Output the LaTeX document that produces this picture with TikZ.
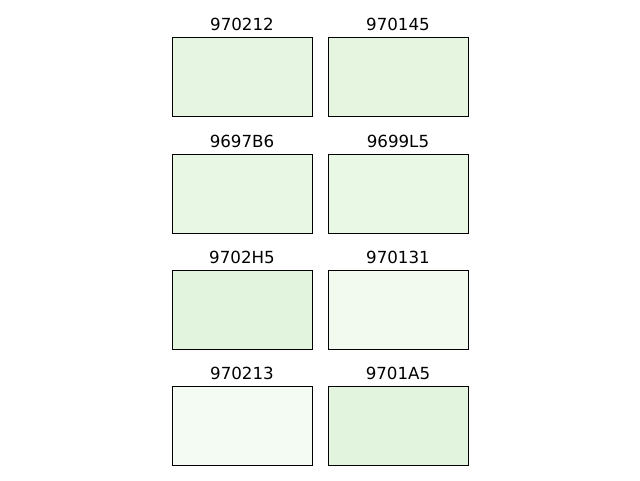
\documentclass[tikz,border=0pt]{standalone}
\usepackage{fontspec}
\setmainfont{DejaVu Sans}
\usetikzlibrary{positioning}
\usetikzlibrary{calc}
\definecolor{gA}{HTML}{E6F5E1}
\definecolor{gB}{HTML}{E5F5E0}
\definecolor{gC}{HTML}{E8F6E4}
\definecolor{gD}{HTML}{E9F7E5}
\definecolor{gE}{HTML}{E3F4DE}
\definecolor{gF}{HTML}{F2FAF0}
\definecolor{gG}{HTML}{F4FBF2}
\definecolor{gH}{HTML}{E3F4DE}
\tikzset{panel/.style={draw=black,line width=0.7pt,rectangle,minimum width=105pt,minimum height=59.25pt,inner sep=0pt},
         paneltitle/.style={anchor=base,inner sep=0pt,font=\fontsize{12.5pt}{15pt}\selectfont}}

\begin{document}
\begin{tikzpicture}[x=0.75pt,y=-0.75pt]
	\useasboundingbox[fill=white] (0,0) rectangle (640,480);
	\foreach \name/\col/\cx/\cy in {p1/gA/242/76.5, p2/gB/398/76.5, p3/gC/242/193.5, p4/gD/398/193.5, p5/gE/242/309.5, p6/gF/398/309.5, p7/gG/242/425.5, p8/gH/398/425.5}
		\node[panel,fill=\col] (\name) at (\cx,\cy) {};
	
	\node[paneltitle] (t1) at ($(p1.north)+(0,-6.5)$) {970212};
	\node[paneltitle] (t2) at ($(p2.north)+(0,-6.5)$) {970145};
	\node[paneltitle] (t3) at ($(p3.north)+(0,-6.5)$) {9697B6};
	\node[paneltitle] (t4) at ($(p4.north)+(0,-6.5)$) {9699L5};
	\node[paneltitle] (t5) at ($(p5.north)+(0,-6.5)$) {9702H5};
	\node[paneltitle] (t6) at ($(p6.north)+(0,-6.5)$) {970131};
	\node[paneltitle] (t7) at ($(p7.north)+(0,-6.5)$) {970213};
	\node[paneltitle] (t8) at ($(p8.north)+(0,-6.5)$) {9701A5};
\end{tikzpicture}
\end{document}
